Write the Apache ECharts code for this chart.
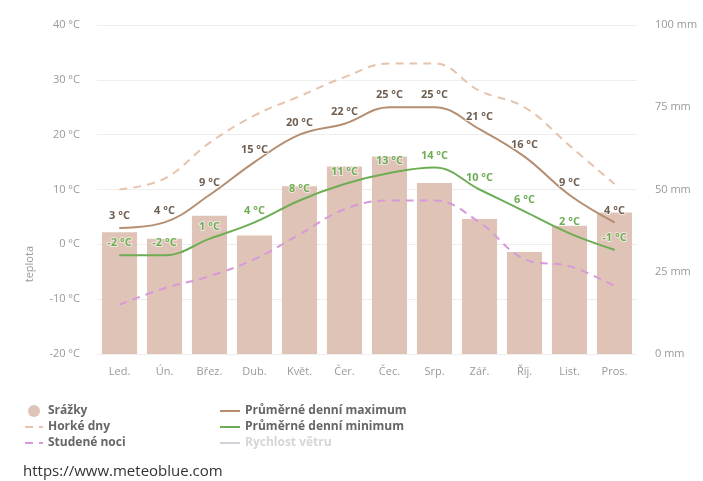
<!DOCTYPE html>
<html>
<head>
<meta charset="utf-8">
<script src="https://cdn.jsdelivr.net/npm/echarts@6/dist/echarts.min.js"></script>
<style>
  html, body { margin: 0; padding: 0; background: #fff; }
  #box { width: 703px; height: 481px; }
</style>
</head>
<body>
<div id="box"></div>
<script>
  const months = ['Led.', 'Ún.', 'Břez.', 'Dub.', 'Květ.', 'Čer.', 'Čec.', 'Srp.', 'Zář.', 'Říj.', 'List.', 'Pros.']
  const srazky = [37, 35, 42, 36, 51, 57, 60, 52, 41, 31, 39, 43]
  const horkeDny = [10, 12, 18.5, 23.5, 27, 30.5, 33, 33, 28, 25, 18, 11]
  const studeneNoci = [-11, -8, -5.8, -2.7, 1.8, 6.4, 8, 8, 4, -2.7, -4, -7.6]
  const maxTeplota = [3, 4, 9, 15, 20, 22, 25, 25, 21, 16, 9, 4]
  const minTeplota = [-2, -2, 1, 4, 8, 11, 13, 14, 10, 6, 2, -1]
  const teplotaTicks = [-20, 40, 10]
  const srazkyTicks = [0, 100, 25]

  const font = 'Open Sans, DejaVu Sans, sans-serif'
  const myChart = echarts.init(document.getElementById('box'))
  const noSymbol = { opacity: 0 }
  const legendText = { color: '#666', fontWeight: 'bold', fontSize: 12, fontFamily: font }

  let option = {
    animation: false,
    textStyle: { fontFamily: font },
    grid: { left: 97, right: 66, top: 25, bottom: 127 },
    legend: [
      {
        orient: 'vertical',
        left: 19,
        top: 400,
        itemWidth: 18,
        itemHeight: 12,
        itemGap: 4,
        textStyle: legendText,
        data: [
          { name: 'Srážky', icon: 'circle' },
          { name: 'Horké dny', itemStyle: noSymbol },
          { name: 'Studené noci', itemStyle: noSymbol }
        ]
      },
      {
        orient: 'vertical',
        left: 214,
        top: 400,
        itemWidth: 20,
        itemHeight: 12,
        itemGap: 4,
        inactiveColor: '#d6d6d6',
        textStyle: legendText,
        data: [
          { name: 'Průměrné denní maximum', itemStyle: noSymbol },
          { name: 'Průměrné denní minimum', itemStyle: noSymbol },
          { name: 'Rychlost větru', itemStyle: noSymbol }
        ],
        selected: { 'Rychlost větru': false }
      }
    ],
    xAxis: {
      type: 'category',
      data: months,
      axisLine: { show: false },
      axisTick: { show: false },
      axisLabel: { color: '#999', fontSize: 11, margin: 12 }
    },
    yAxis: [
      {
        type: 'value',
        min: teplotaTicks[0],
        max: teplotaTicks[1],
        interval: teplotaTicks[2],
        axisLabel: { color: '#999', fontSize: 11, margin: 17, formatter: '{value} °C' },
        splitLine: { lineStyle: { color: '#eeeeee' } }
      },
      {
        type: 'value',
        min: srazkyTicks[0],
        max: srazkyTicks[1],
        interval: srazkyTicks[2],
        axisLabel: { color: '#999', fontSize: 11, margin: 18, formatter: '{value} mm' },
        splitLine: { show: false }
      }
    ],
    graphic: [
      {
        type: 'text',
        left: 24,
        top: 246,
        rotation: Math.PI / 2,
        style: { text: 'teplota', fill: '#999', font: '11px ' + font }
      },
      {
        type: 'text',
        left: 23,
        top: 464,
        style: { text: 'https://www.meteoblue.com', fill: '#333', font: '15px ' + font }
      }
    ],
    series: [
      {
        name: 'Srážky',
        type: 'bar',
        yAxisIndex: 1,
        barCategoryGap: '22%',
        itemStyle: { color: '#dfc3b6' },
        data: srazky,
        z: 1
      },
      {
        name: 'Horké dny',
        type: 'line',
        smooth: 0.4,
        symbol: 'none',
        lineStyle: { color: '#e6c3ad', width: 2, type: [8, 6] },
        itemStyle: { color: '#e6c3ad' },
        data: horkeDny,
        z: 2
      },
      {
        name: 'Studené noci',
        type: 'line',
        smooth: 0.4,
        symbol: 'none',
        lineStyle: { color: '#d69ad9', width: 2, type: [8, 6] },
        itemStyle: { color: '#d69ad9' },
        data: studeneNoci,
        z: 2
      },
      {
        name: 'Průměrné denní maximum',
        type: 'line',
        smooth: 0.4,
        symbol: 'circle',
        symbolSize: 1,
        showSymbol: true,
        lineStyle: { color: '#b58e72', width: 2 },
        itemStyle: { color: '#b58e72' },
        label: {
          show: true,
          position: 'top',
          distance: 6,
          color: '#6f5f52',
          fontWeight: 'bold',
          fontSize: 11,
          formatter: '{c} °C',
          textBorderColor: 'rgba(255,255,255,0.7)',
          textBorderWidth: 2
        },
        data: maxTeplota,
        z: 3
      },
      {
        name: 'Průměrné denní minimum',
        type: 'line',
        smooth: 0.4,
        symbol: 'circle',
        symbolSize: 1,
        showSymbol: true,
        lineStyle: { color: '#6fad55', width: 2 },
        itemStyle: { color: '#6fad55' },
        label: {
          show: true,
          position: 'top',
          distance: 6,
          color: '#6fad55',
          fontWeight: 'bold',
          fontSize: 11,
          formatter: '{c} °C',
          textBorderColor: 'rgba(255,255,255,0.6)',
          textBorderWidth: 2
        },
        data: minTeplota,
        z: 3
      },
      {
        name: 'Rychlost větru',
        type: 'line',
        symbol: 'none',
        lineStyle: { color: '#bbbbbb', width: 2 },
        itemStyle: { color: '#bbbbbb' },
        data: []
      }
    ]
  }
  myChart.setOption(option)
</script>
</body>
</html>
